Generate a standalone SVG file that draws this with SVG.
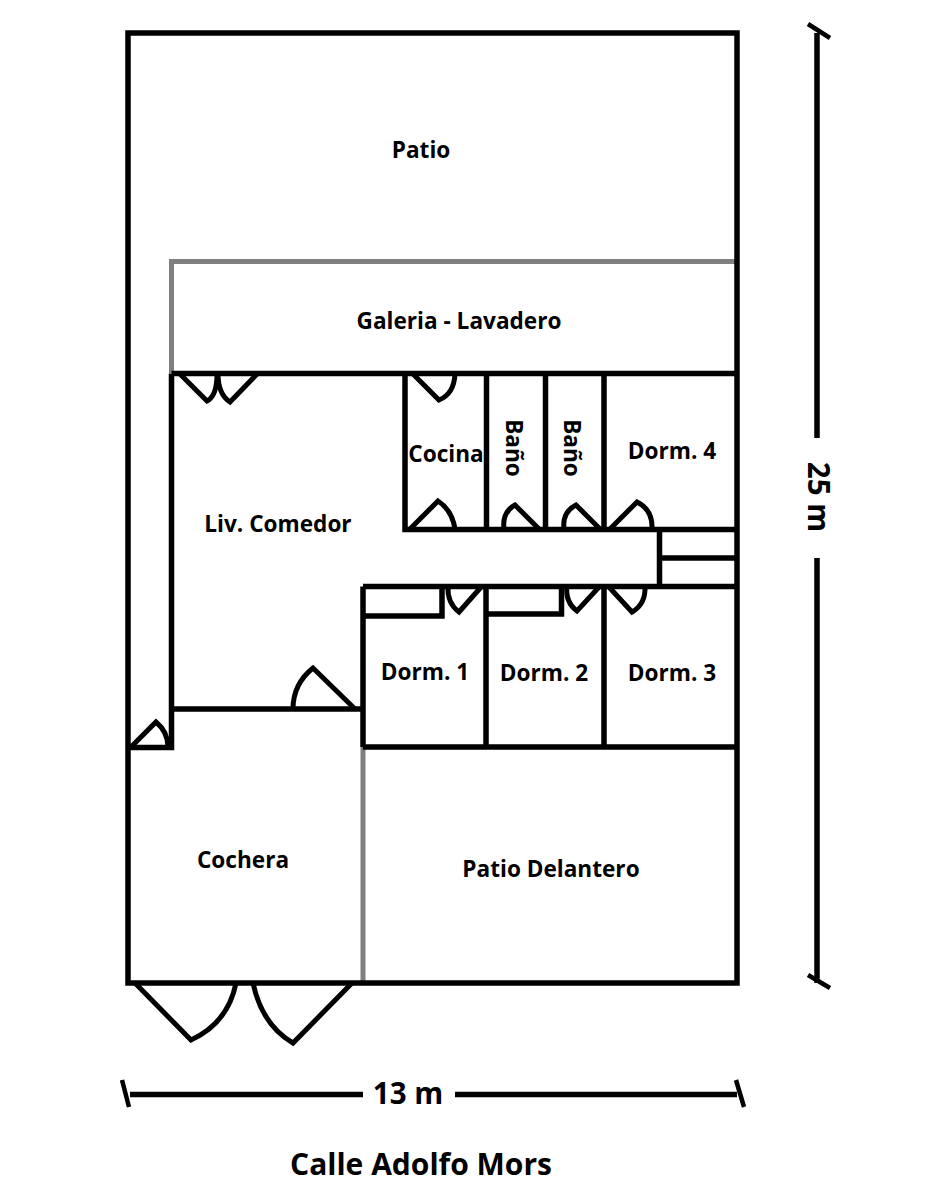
<svg xmlns="http://www.w3.org/2000/svg" width="936" height="1200" viewBox="0 0 936 1200">
<style>
.w{fill:none;stroke:#000;stroke-width:5.500;stroke-linejoin:miter}
.g{fill:none;stroke:#7f7f7f;stroke-width:5}
.d{fill:none;stroke:#000;stroke-width:5;stroke-linejoin:miter}
.k{fill:none;stroke:#000;stroke-width:4.500}
.t{font-family:"Open Sans","Noto Sans",sans-serif;font-weight:700;font-size:22.600px;fill:#000;text-anchor:middle}
.b{font-size:29.500px}
.c{font-size:30px}
</style>
<rect width="936" height="1200" fill="#fff"/>
<g id="walls-light">
<path class="g" d="M171.500 373V261.500H737M363 747V983"/>
</g>
<g id="walls">
<rect class="w" x="128" y="33" width="609" height="950"/>
<path class="w" d="M171.500 373.500H737M171.500 373.500V747.500H128M171.500 709H363M363 586.500V747M363 586.500H659.500V529.500H405V373.500M486.500 373.500V529.500M545.500 373.500V529.500M604 373.500V529.500M659.500 529.500H737M659.500 558H737M659.500 586.500H737M363 616H442V586.500M486 586.500V747M486 614H561.500V586.500M604 586.500V747M363 747H737"/>
</g>
<g id="doors">
<path class="d" d="M180 374L207 401Q217 396 217 374"/>
<path class="d" d="M257 374L230 402Q218 394 218 374"/>
<path class="d" d="M355 709L313 668Q293 684 293 709"/>
<path class="d" d="M131 747L156 722Q168 732 168 747"/>
<path class="d" d="M413 374L439 400Q454 394 455 374"/>
<path class="d" d="M410 529L438 501Q452 510 455 529"/>
<path class="d" d="M539 529L515 505Q502 512 504 529"/>
<path class="d" d="M600 529L576 505Q562 512 564 529"/>
<path class="d" d="M610 529L637 502Q653 510 652 529"/>
<path class="d" d="M482 586L459 612Q447 603 448 586"/>
<path class="d" d="M600 586L577 611Q565 602 567 586"/>
<path class="d" d="M608 586L632 612Q646 604 645 586"/>
<path class="d" d="M135 983L191 1040Q228 1023 236 983"/>
<path class="d" d="M352 983L293 1043Q262 1025 253 983"/>
</g>
<g id="dimensions">
<path class="w" d="M130 1094.500H363M455 1094.500H737M817 33V438M817 558V983"/>
<path class="k" d="M122 1080L129 1107M736 1080L744 1107M808 24L830 38M808 975L830 988"/>
</g>
<g id="labels">
<text class="t" x="421" y="158">Patio</text>
<text class="t" x="459" y="329">Galeria - Lavadero</text>
<text class="t" x="278" y="532">Liv. Comedor</text>
<text class="t" x="446" y="462">Cocina</text>
<text class="t" transform="translate(506 448) rotate(90)" x="0" y="0">Baño</text>
<text class="t" transform="translate(564 448) rotate(90)" x="0" y="0">Baño</text>
<text class="t" x="672" y="459">Dorm. 4</text>
<text class="t" x="425" y="680">Dorm. 1</text>
<text class="t" x="544" y="681">Dorm. 2</text>
<text class="t" x="672" y="681">Dorm. 3</text>
<text class="t" x="243" y="868">Cochera</text>
<text class="t" x="551" y="877">Patio Delantero</text>
<text class="t b" x="408" y="1104">13 m</text>
<text class="t b" transform="translate(808 497) rotate(90)" x="0" y="0">25 m</text>
<text class="t c" x="421" y="1175">Calle Adolfo Mors</text>
</g>
</svg>
